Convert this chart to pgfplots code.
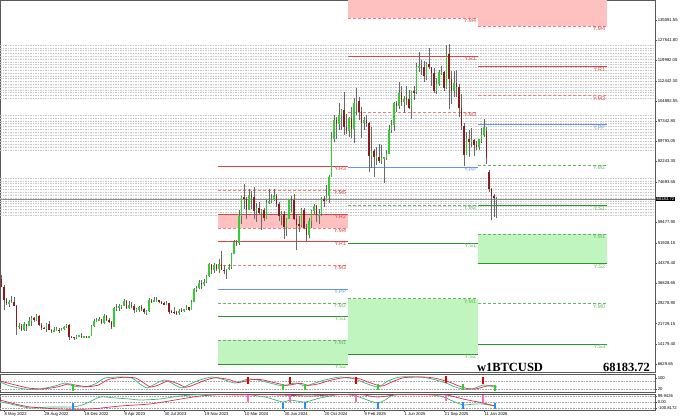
\documentclass[border=0pt]{standalone}
\usepackage{fontspec}
\setmainfont{Liberation Sans}
\newfontfamily\bigserif{Liberation Serif}
\usepackage{pgfplots}
\pgfplotsset{compat=1.18}
\usepackage{pgfplotstable}

\definecolor{upgreen}{RGB}{50,205,50}
\definecolor{dnred}{RGB}{139,26,26}
\definecolor{wick}{RGB}{105,105,105}
\definecolor{lvred}{RGB}{225,65,65}
\definecolor{lvredl}{RGB}{240,125,125}
\definecolor{redfill}{RGB}{255,192,192}
\definecolor{lvblue}{RGB}{100,149,237}
\definecolor{lvgreen}{RGB}{40,150,40}
\definecolor{lvgreenl}{RGB}{95,185,95}
\definecolor{greenfill}{RGB}{192,245,192}
\definecolor{mesh}{RGB}{200,200,200}
\definecolor{oscgreen}{RGB}{60,179,113}
\definecolor{oscred}{RGB}{220,40,80}
\definecolor{mkpink}{RGB}{255,105,180}
\definecolor{mkblue}{RGB}{30,144,255}

\newcommand{\tk}{\fontsize{4.2}{5}\selectfont}
\newcommand{\lk}{\fontsize{5.4}{6}\selectfont}

\tikzset{lbl/.style={anchor=north east, font=\lk, inner sep=0.3pt, xshift=-1.5pt, yshift=-0.4pt}}
\pgfplotsset{
  sred/.style={draw=lvred, line width=0.75pt},
  dred/.style={draw=lvredl, line width=0.65pt, dash pattern=on 3pt off 2pt},
  sblue/.style={draw=lvblue, line width=0.75pt},
  sgreen/.style={draw=lvgreen, line width=0.65pt},
  dgreen/.style={draw=lvgreenl, line width=0.65pt, dash pattern=on 3pt off 2pt},
  meshline/.style={draw=mesh, line width=0.5pt, dash pattern=on 1.5pt off 1pt, forget plot},
  panelbase/.style={scale only axis, width=655pt, xmin=-1.6, xmax=260.4,
    axis line style={draw=black!65, line width=0.4pt},
    tick style={draw=black!70, line width=0.3pt}, major tick length=1.8pt, tick align=outside,
    ytick pos=right, yticklabel pos=right,
    y tick label style={font=\tk, inner sep=0.8pt, anchor=west},
    clip mode=individual},
}
\newcommand{\lvl}[6]{\addplot[#4,forget plot] coordinates {(#1,#3) (#2,#3)};
  \node[lbl,text=#6] at (axis cs:#2,#3) {#5};}
\newcommand{\zone}[5]{\addplot[fill=#5,draw=none,forget plot] coordinates {(#1,#3) (#2,#3) (#2,#4) (#1,#4)} -- cycle;}

% weekly candles, price in thousands of USD
\pgfplotstableread{
k o h l c
-1 38.5 40.0 35.4 35.5
0 35.5 36.0 26.7 30.5
1 30.5 31.4 28.6 29.4
2 29.4 30.6 28.0 29.5
3 29.5 32.2 29.3 29.9
4 29.9 31.6 28.2 28.4
5 28.4 28.6 17.6 20.5
6 20.5 21.9 19.6 21.0
7 21.0 21.5 18.9 19.3
8 19.3 22.5 19.0 21.6
9 21.6 21.7 19.0 20.8
10 20.8 24.3 20.7 22.6
11 22.6 24.6 20.7 23.8
12 23.8 24.2 22.4 23.2
13 23.2 25.2 22.7 24.4
14 24.4 25.0 20.8 21.1
15 21.1 21.8 19.5 20.0
16 20.0 20.6 19.6 19.8
17 19.8 21.8 18.6 21.6
18 21.6 22.8 19.4 19.4
19 19.4 19.7 18.1 18.9
20 18.9 20.4 18.5 19.3
21 19.3 20.4 19.1 19.4
22 19.4 19.9 18.2 19.2
23 19.2 20.0 18.9 19.6
24 19.6 21.0 19.3 20.6
25 20.6 21.4 20.0 21.2
26 21.2 21.5 15.6 16.8
27 16.8 17.2 16.2 16.6
28 16.6 16.9 15.5 16.5
29 16.5 17.4 16.0 17.1
30 17.1 17.3 16.8 17.2
31 17.2 18.4 16.5 16.8
32 16.8 17.0 16.4 16.9
33 16.9 16.9 16.4 16.6
34 16.6 17.2 16.5 17.1
35 17.1 21.2 17.1 20.9
36 20.9 23.3 20.5 22.7
37 22.7 23.8 22.3 23.0
38 23.0 24.2 22.6 23.3
39 23.3 23.4 21.4 21.8
40 21.8 25.2 21.5 24.6
41 24.6 25.1 22.7 23.2
42 23.2 23.9 21.9 22.4
43 22.4 22.6 19.6 20.6
44 20.6 28.0 20.5 27.4
45 27.4 28.9 26.6 27.5
46 27.5 29.2 26.5 28.2
47 28.2 28.6 27.3 28.3
48 28.3 31.0 28.2 30.3
49 30.3 30.5 27.1 27.6
50 27.6 30.0 27.0 28.8
51 28.8 29.8 27.7 28.4
52 28.4 29.0 25.8 26.8
53 26.8 27.7 26.1 26.9
54 26.9 28.4 25.9 27.9
55 27.9 28.5 26.5 27.1
56 27.1 27.4 25.4 25.9
57 25.9 26.8 24.8 26.5
58 26.5 31.4 26.2 30.5
59 30.5 31.0 29.5 30.2
60 30.2 31.5 29.7 30.3
61 30.3 31.8 30.0 30.4
62 30.4 30.4 29.6 29.9
63 29.9 30.1 28.9 29.2
64 29.2 29.9 28.6 29.0
65 29.0 30.2 28.8 29.4
66 29.4 29.6 25.2 26.1
67 26.1 26.8 25.8 26.0
68 26.0 28.1 25.4 25.9
69 25.9 26.4 24.9 25.8
70 25.8 27.0 24.9 26.6
71 26.6 27.5 26.0 26.3
72 26.3 27.2 26.0 27.0
73 27.0 28.6 26.9 27.9
74 27.9 28.0 26.5 26.9
75 26.9 30.4 26.8 29.9
76 29.9 35.2 29.7 34.5
77 34.5 35.9 33.4 35.0
78 35.0 38.0 34.5 37.0
79 37.0 37.9 34.8 36.6
80 36.6 38.4 35.6 37.4
81 37.4 40.0 36.9 39.5
82 39.5 44.5 39.3 43.8
83 43.8 44.0 40.2 41.9
84 41.9 44.4 40.6 43.6
85 43.6 43.9 41.4 42.3
86 42.3 45.9 40.7 43.9
87 43.9 49.0 41.6 41.7
88 41.7 43.5 40.3 41.6
89 41.6 42.2 38.5 42.1
90 42.1 43.9 41.8 43.0
91 43.0 48.2 42.3 47.8
92 47.8 52.9 47.6 52.1
93 52.1 52.9 50.6 51.7
94 51.7 64.0 51.1 62.0
95 62.0 69.2 59.0 68.9
96 68.9 73.8 64.5 68.4
97 68.4 68.9 60.8 64.3
98 64.3 71.8 64.0 69.9
99 69.9 71.3 64.5 68.9
100 68.9 72.7 60.7 63.9
101 63.9 66.8 59.7 64.9
102 64.9 67.2 62.8 63.1
103 63.1 64.7 56.6 64.0
104 64.0 65.0 60.2 61.0
105 61.0 67.7 60.7 66.9
106 66.9 71.9 66.3 67.6
107 67.6 70.0 66.6 67.8
108 67.8 71.9 67.6 69.4
109 69.4 70.1 65.1 66.2
110 66.2 67.0 60.0 61.8
111 61.8 63.7 58.4 62.7
112 62.7 63.6 53.5 57.7
113 57.7 61.0 54.3 60.8
114 60.8 68.4 60.6 68.2
115 68.2 69.4 63.5 67.9
116 67.9 70.0 60.5 60.7
117 60.7 62.8 49.1 58.7
118 58.7 61.8 56.1 58.4
119 58.4 65.0 57.8 64.1
120 64.1 64.9 57.2 57.3
121 57.3 59.0 52.6 54.8
122 54.8 61.3 53.6 60.0
123 60.0 64.2 57.6 63.6
124 63.6 66.5 62.7 65.6
125 65.6 66.0 59.8 62.1
126 62.1 64.5 58.9 62.8
127 62.8 69.0 62.0 68.3
128 68.3 69.5 65.1 67.6
129 67.6 73.6 67.5 69.4
130 69.4 77.2 66.8 76.6
131 76.6 93.3 76.5 90.6
132 90.6 99.6 89.4 97.8
133 97.8 98.7 90.8 96.4
134 96.4 104.0 94.0 99.8
135 99.8 102.0 94.2 101.4
136 101.4 108.3 92.2 95.2
137 95.2 99.9 92.5 93.7
138 93.7 98.9 91.5 98.4
139 98.4 102.7 91.2 94.5
140 94.5 106.0 89.3 104.2
141 104.2 109.6 99.5 104.7
142 104.7 106.5 97.8 100.6
143 100.6 102.5 91.2 96.5
144 96.5 98.8 94.1 97.6
145 97.6 99.5 95.3 96.6
146 96.6 96.9 78.2 84.4
147 84.4 95.0 80.0 86.2
148 86.2 86.8 76.6 84.0
149 84.0 87.5 81.1 84.1
150 84.1 88.8 81.6 82.5
151 82.5 88.5 81.2 83.5
152 83.5 84.0 74.4 83.7
153 83.7 86.4 83.0 85.1
154 85.1 95.8 85.0 94.2
155 94.2 97.9 92.8 96.0
156 96.0 104.3 93.6 104.0
157 104.0 105.0 100.8 103.1
158 103.1 111.9 102.0 107.8
159 107.8 110.3 103.1 104.6
160 104.6 106.8 100.4 105.7
161 105.7 110.4 103.5 105.5
162 105.5 108.9 102.0 102.2
163 102.2 108.5 98.2 108.4
164 108.4 110.5 105.3 108.2
165 108.2 118.9 107.5 117.5
166 117.5 123.2 115.8 117.8
167 117.8 120.2 114.7 117.6
168 117.6 119.8 112.0 114.2
169 114.2 119.3 112.7 118.8
170 118.8 124.5 116.8 117.5
171 117.5 117.7 110.6 115.4
172 115.4 117.0 108.0 108.7
173 108.7 113.4 107.3 111.2
174 111.2 116.6 110.6 115.6
175 115.6 117.9 114.7 115.7
176 115.7 115.9 108.6 109.7
177 109.7 125.7 109.3 122.3
178 122.3 126.2 102.0 113.0
179 113.0 116.0 103.6 108.6
180 108.6 116.0 106.2 111.6
181 111.6 116.4 106.3 110.1
182 110.1 111.2 98.9 102.3
183 102.3 107.5 94.0 95.6
184 95.6 96.6 80.6 84.7
185 84.7 93.1 84.5 90.8
186 90.8 94.1 83.8 89.4
187 89.4 94.6 87.7 90.2
188 90.2 90.6 84.4 88.4
189 88.4 90.0 86.6 87.8
190 87.8 90.5 86.7 90.6
191 90.6 94.8 89.3 92.2
192 92.2 98.0 91.5 95.0
193 93.5 95.0 81.5 83.5
194 78.5 79.1 70.8 71.8
195 71.8 72.5 60.4 69.5
196 69.5 70.0 61.5 68.6
197 68.0 69.0 61.0 68.18
}\btc

\begin{document}
\begin{tikzpicture}[x=1pt,y=1pt]
\path[use as bounding box] (0,0) rectangle (680,420);

% ---------------- main price panel ----------------
\begin{axis}[panelbase, at={(0pt,48pt)}, anchor=south west, height=372pt,
  ymin=3.655, ymax=142.56, xtick=\empty,
  ytick={135.09155,127.5418,119.99205,112.4423,104.89255,97.3428,89.79305,82.2433,74.69355,59.4779,51.92815,44.3784,36.82865,29.2789,21.72915,14.1794,6.62965},
  yticklabels={135091.55,127541.80,119992.05,112442.30,104892.55,97342.80,89793.05,82243.30,74693.55,59477.90,51928.15,44378.40,36828.65,29278.90,21729.15,14179.40,6629.65}]

% zones
\zone{85.6}{137.6}{57.42}{62.65}{redfill}
\zone{85.6}{137.6}{6.64}{15.60}{greenfill}
\zone{137.6}{189.6}{135.8}{149.9}{redfill}
\zone{137.6}{189.6}{10.27}{31.0}{greenfill}
\zone{189.6}{241.2}{132.75}{147.8}{redfill}
\zone{189.6}{241.2}{44.23}{55.05}{greenfill}

% grey level mesh
\pgfplotsinvokeforeach{125.76,124.71,123.66,122.62,121.57,120.53,119.48,118.44,117.39,116.35,115.30,114.26,113.21,112.17,111.12,110.08,109.03,107.99,106.94,105.90,
99.62,98.54,97.45,96.37,95.29,94.20,93.12,92.04,90.95,89.87,88.79,87.70,86.62,
76.09,75.03,73.96,72.90,71.83,70.77,69.71,68.64,67.58,66.51,65.45,64.39,63.32,62.26}{
  \addplot[meshline] coordinates {(-1.6,#1) (260.4,#1)};
}
% current price line
\addplot[draw=black!45, line width=0.5pt, forget plot] coordinates {(-1.6,68.18) (260.4,68.18)};

% yearly pivot levels: 2024
\lvl{85.6}{137.6}{80.57}{sred}{Y.R3}{lvred}
\lvl{85.6}{137.6}{71.61}{dred}{Y.M5}{lvred}
\lvl{85.6}{137.6}{62.65}{sred}{Y.R2}{lvred}
\lvl{85.6}{137.6}{57.42}{dred}{Y.M4}{lvred}
\lvl{85.6}{137.6}{52.57}{sred}{Y.R1}{lvred}
\lvl{85.6}{137.6}{43.61}{dred}{Y.M3}{lvred}
\lvl{85.6}{137.6}{34.65}{sblue}{Y.PP}{lvblue}
\lvl{85.6}{137.6}{29.42}{dgreen}{Y.M2}{lvgreenl}
\lvl{85.6}{137.6}{24.56}{sgreen}{Y.S1}{lvgreenl}
\lvl{85.6}{137.6}{15.60}{dgreen}{Y.M1}{lvgreenl}
\lvl{85.6}{137.6}{6.64}{sgreen}{Y.S2}{lvgreenl}
% 2025
\lvl{137.6}{189.6}{135.8}{dred}{Y.M4}{lvred}
\lvl{137.6}{189.6}{121.6}{sred}{Y.R1}{lvred}
\lvl{137.6}{189.6}{100.8}{dred}{Y.M3}{lvred}
\lvl{137.6}{189.6}{80.07}{sblue}{Y.PP}{lvblue}
\lvl{137.6}{189.6}{65.9}{dgreen}{Y.M2}{lvgreenl}
\lvl{137.6}{189.6}{51.8}{sgreen}{Y.S1}{lvgreenl}
\lvl{137.6}{189.6}{31.0}{dgreen}{Y.M1}{lvgreenl}
\lvl{137.6}{189.6}{10.27}{sgreen}{Y.S2}{lvgreenl}
% 2026
\lvl{189.6}{241.2}{132.75}{dred}{Y.M4}{lvred}
\lvl{189.6}{241.2}{117.7}{sred}{Y.R1}{lvred}
\lvl{189.6}{241.2}{106.9}{dred}{Y.M3}{lvred}
\lvl{189.6}{241.2}{96.03}{sblue}{Y.PP}{lvblue}
\lvl{189.6}{241.2}{80.95}{dgreen}{Y.M2}{lvgreenl}
\lvl{189.6}{241.2}{65.86}{sgreen}{Y.S1}{lvgreenl}
\lvl{189.6}{241.2}{55.05}{dgreen}{Y.M1}{lvgreenl}
\lvl{189.6}{241.2}{44.23}{sgreen}{Y.S2}{lvgreenl}
\lvl{189.6}{241.2}{29.15}{dgreen}{Y.M0}{lvgreenl}
\lvl{189.6}{241.2}{14.06}{sgreen}{Y.S3}{lvgreenl}

% candles: wicks
\addplot[draw=none, mark=none, forget plot,
  error bars/.cd, y dir=both, y explicit, error mark=none,
  error bar style={draw=wick, line width=0.6pt, solid}]
  table[x=k, y expr={(\thisrow{h}+\thisrow{l})/2}, y error expr={(\thisrow{h}-\thisrow{l})/2}] {\btc};
% up bodies
\addplot[draw=none, mark=none, forget plot,
  error bars/.cd, y dir=both, y explicit, error mark=none,
  error bar style={draw=upgreen, line width=1.9pt, solid}]
  table[x=k, y expr={\thisrow{c}<\thisrow{o} ? -20 : (\thisrow{o}+\thisrow{c})/2},
    y error expr={\thisrow{c}<\thisrow{o} ? 0 : max((\thisrow{c}-\thisrow{o})/2,0.2)}] {\btc};
% down bodies
\addplot[draw=none, mark=none, forget plot,
  error bars/.cd, y dir=both, y explicit, error mark=none,
  error bar style={draw=dnred, line width=1.9pt, solid}]
  table[x=k, y expr={\thisrow{c}<\thisrow{o} ? (\thisrow{o}+\thisrow{c})/2 : -20},
    y error expr={\thisrow{c}<\thisrow{o} ? max((\thisrow{o}-\thisrow{c})/2,0.2) : 0}] {\btc};

% current price tag
\node[fill=black, text=white, font=\tk, inner sep=0.7pt, anchor=west, xshift=0.8pt] at (axis cs:260.4,68.18) {68183.72};
\end{axis}

% ---------------- oscillator panel 1 ----------------
\begin{axis}[panelbase, at={(0pt,28pt)}, anchor=south west, height=18pt,
  ymin=0, ymax=128.6, xtick=\empty, ytick={100,21.4}, yticklabels={100,20}]
\addplot[draw=black!35, line width=0.3pt, dash pattern=on 0.8pt off 0.8pt, forget plot] coordinates {(-1.6,80) (260.4,80)};
\addplot[draw=black!35, line width=0.3pt, dash pattern=on 0.8pt off 0.8pt, forget plot] coordinates {(-1.6,21.4) (260.4,21.4)};
\addplot[draw=oscgreen, line width=0.7pt, mark=none, smooth, tension=0.4] coordinates {
(-1.6,71) (2.4,43) (8.4,21) (14.4,21) (20.4,43) (24.4,64) (27.6,43) (32.4,36) (36.4,57) (40.4,100) (46.4,107) (51.2,100) (54.4,57) (57.2,29) (60.4,57) (64.4,86) (68.4,50) (71.2,29) (74.4,57) (78.4,86) (83.2,107) (88.4,86) (92.4,64) (97.6,93) (101.6,86) (106.4,64) (111.6,43) (114.4,57) (117.2,64) (120.4,43) (124.4,64) (128.4,86) (134.4,107) (140.4,93) (144.4,64) (149.6,36) (153.6,79) (158.4,107) (166.4,107) (171.2,93) (176.8,64) (180.4,36) (183.6,21) (187.2,21) (191.6,50) (194.4,43) (197,29)};
\addplot[draw=oscred, line width=0.7pt, mark=none, smooth, tension=0.4] coordinates {
(-1.6,78) (3.5,55) (9.8,28) (15.6,22) (21.6,37) (25.8,58) (29,48) (33.6,38) (37.8,50) (41.8,90) (47.6,105) (52.6,100) (55.8,66) (58.6,36) (61.8,50) (65.8,80) (69.8,57) (72.6,34) (75.8,50) (79.8,80) (84.6,102) (89.8,90) (93.8,68) (99,88) (103,88) (107.8,68) (113,48) (115.8,55) (118.6,62) (121.8,48) (125.8,58) (129.8,80) (135.8,102) (141.8,96) (145.8,70) (151,42) (155,70) (159.8,102) (167.8,107) (172.6,98) (178.2,70) (181.8,44) (185,26) (188.6,22) (193,42) (195.8,45) (197,38)};
\addplot[only marks, mark=|, mark size=3.4pt, mark options={draw=upgreen, line width=1.2pt}] coordinates {
(27.6,34) (111.6,36) (120.4,36) (149.6,36) (183.6,36) (196.4,28)};
\addplot[only marks, mark=|, mark size=3.4pt, mark options={draw=red!90!black, line width=1.2pt}] coordinates {
(97.6,83) (114.4,83) (140.8,81) (176.8,88) (191.6,84)};
\end{axis}

% ---------------- oscillator panel 2 ----------------
\begin{axis}[panelbase, at={(0pt,10pt)}, anchor=south west, height=16pt,
  ymin=-133.3, ymax=133.3, ytick={99.9426,0,-100.8172}, yticklabels={99.9426,0.00,-100.8172},
  xtick={0,16,32,48,64,80,96,112,128,144,160,176,192},
  xticklabels={8 May 2022,28 Aug 2022,18 Dec 2022,9 Apr 2023,30 Jul 2023,19 Nov 2023,10 Mar 2024,30 Jun 2024,20 Oct 2024,9 Feb 2025,1 Jun 2025,21 Sep 2025,11 Jan 2026},
  xtick pos=bottom,
  x tick label style={font=\tk, anchor=north west, inner sep=0.5pt}]
\addplot[draw=black!35, line width=0.3pt, dash pattern=on 0.8pt off 0.8pt, forget plot] coordinates {(-1.6,99.9426) (260.4,99.9426)};
\addplot[draw=black!35, line width=0.3pt, dash pattern=on 0.8pt off 0.8pt, forget plot] coordinates {(-1.6,0) (260.4,0)};
\addplot[draw=black!35, line width=0.3pt, dash pattern=on 0.8pt off 0.8pt, forget plot] coordinates {(-1.6,-100.8172) (260.4,-100.8172)};
\addplot[draw=oscgreen, line width=0.7pt, mark=none, smooth, tension=0.4] coordinates {
(-1.6,5) (4.4,-50) (10.4,-100) (18.4,-83) (27.6,-83) (32.4,-33) (38.4,83) (44.4,67) (50.4,50) (54.4,33) (62.4,50) (70.4,100) (78.4,125) (86.4,125) (92.4,117) (98.4,117) (104.4,83) (111.6,0) (114.4,33) (120.4,0) (126.4,67) (134.4,125) (140.8,100) (146.4,17) (149.6,-17) (152.4,33) (156.4,125) (166.4,125) (174.4,100) (180.4,0) (183.6,-50) (188.4,-33) (191.6,-33) (196.4,-67)};
\addplot[draw=oscred, line width=0.7pt, mark=none, smooth, tension=0.4] coordinates {
(-1.6,33) (4.4,-33) (10.4,-83) (22.4,-117) (34.4,-117) (46.4,-67) (58.4,-33) (68.4,33) (78.4,100) (88.4,125) (98.4,125) (110.4,117) (122.4,100) (134.4,125) (142.4,125) (149.6,83) (156.4,117) (166.4,125) (176.8,117) (183.6,50) (191.6,-17) (196.4,-67)};
\addplot[only marks, mark=|, mark size=3.4pt, mark options={draw=mkblue, line width=1.2pt}] coordinates {
(27.6,-75) (111.6,-67) (120.4,-58) (149.6,-58) (183.6,-58) (196.4,-67)};
\addplot[only marks, mark=|, mark size=3.4pt, mark options={draw=mkpink, line width=1.2pt}] coordinates {
(97.6,58) (114.4,58) (140.8,60) (176.8,67) (191.6,58)};
\end{axis}

% titles
\node[font=\bigserif\bfseries\fontsize{12.5}{14}\selectfont, anchor=center] at (510,53) {w1BTCUSD};
\node[font=\bigserif\bfseries\fontsize{12.5}{14}\selectfont, anchor=east] at (653.5,53) {68183.72};
\end{tikzpicture}
\end{document}
